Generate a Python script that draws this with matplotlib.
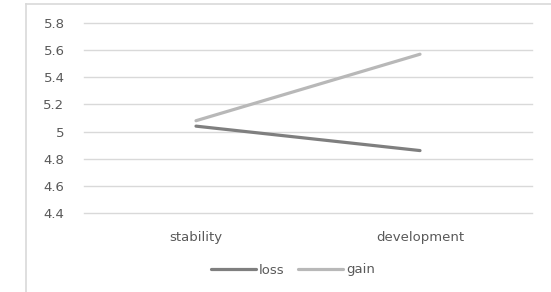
import matplotlib
matplotlib.use("Agg")
import matplotlib.pyplot as plt
from matplotlib.lines import Line2D

categories = ["stability", "development"]
loss = [5.04, 4.86]
gain = [5.08, 5.57]
yticks = [4.4, 4.6, 4.8, 5.0, 5.2, 5.4, 5.6, 5.8]
ytick_labels = ["4.4", "4.6", "4.8", "5", "5.2", "5.4", "5.6", "5.8"]

plt.rcParams['font.family'] = ['DejaVu Sans']
W, H = 551, 292
fig = plt.figure(figsize=(W/100, H/100), dpi=100)
fx0, fy0 = 26/W, 1 - 3.5/H
fig.add_artist(Line2D([fx0, fx0], [0, fy0], transform=fig.transFigure, color='#d9d9d9', linewidth=1.2))
fig.add_artist(Line2D([fx0, 1.0], [fy0, fy0], transform=fig.transFigure, color='#d9d9d9', linewidth=1.2))
ax = fig.add_axes([84/W, 1 - 213/H, (532-84)/W, (213-23)/H])
x = [0, 1]
ax.plot(x, loss, color='#7f7f7f', linewidth=2.3, label='loss', solid_capstyle='round')
ax.plot(x, gain, color='#b8b8b8', linewidth=2.3, label='gain', solid_capstyle='round')
ax.set_xlim(-0.5, 1.5)
ax.set_ylim(4.4, 5.8)
ax.set_yticks(yticks)
ax.set_yticklabels(ytick_labels)
ax.set_xticks(x)
ax.set_xticklabels(categories)
ax.grid(axis='y', color='#d9d9d9', linewidth=1)
for gl in ax.get_ygridlines():
    gl.set_clip_on(False)
ax.set_axisbelow(True)
for s in ax.spines.values():
    s.set_visible(False)
ax.tick_params(axis='both', length=0, colors='#595959', labelsize=9.5)
ax.tick_params(axis='y', pad=14)
ax.tick_params(axis='x', pad=13)
leg = fig.legend(loc='center', bbox_to_anchor=(293/W, 1 - 270/H), ncol=2, frameon=False,
                 fontsize=9.5, handlelength=3.4, handletextpad=0.25, columnspacing=1.0)
for t in leg.get_texts():
    t.set_color('#595959')
fig.savefig("out.png", dpi=100)
